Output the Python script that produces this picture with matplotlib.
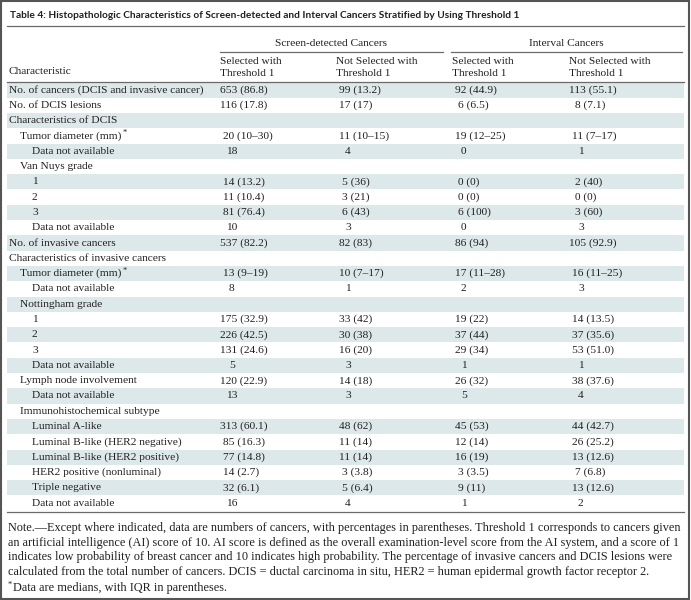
import matplotlib
matplotlib.use("Agg")
import matplotlib.pyplot as plt
from matplotlib.patches import Rectangle

# table content
title = "Table 4: Histopathologic Characteristics of Screen-detected and Interval Cancers Stratified by Using Threshold 1"
groups = ["Screen-detected Cancers", "Interval Cancers"]
col_heads = [["Selected with", "Threshold 1"], ["Not Selected with", "Threshold 1"],
             ["Selected with", "Threshold 1"], ["Not Selected with", "Threshold 1"]]

labels = ["No. of cancers (DCIS and invasive cancer)", "No. of DCIS lesions", "Characteristics of DCIS",
          "Tumor diameter (mm)", "Data not available", "Van Nuys grade", "1", "2", "3", "Data not available",
          "No. of invasive cancers", "Characteristics of invasive cancers", "Tumor diameter (mm)",
          "Data not available", "Nottingham grade", "1", "2", "3", "Data not available",
          "Lymph node involvement", "Data not available", "Immunohistochemical subtype", "Luminal A-like",
          "Luminal B-like (HER2 negative)", "Luminal B-like (HER2 positive)", "HER2 positive (nonluminal)",
          "Triple negative", "Data not available"]
levels = [0, 0, 0, 1, 2, 1, 2, 2, 2, 2, 0, 0, 1, 2, 1, 2, 2, 2, 2, 1, 2, 1, 2, 2, 2, 2, 2, 2]
starred = [3, 12]

sel_screen = ["653 (86.8)", "116 (17.8)", "", "20 (10–30)", "18", "", "14 (13.2)", "11 (10.4)", "81 (76.4)", "10",
              "537 (82.2)", "", "13 (9–19)", "8", "", "175 (32.9)", "226 (42.5)", "131 (24.6)", "5", "120 (22.9)",
              "13", "", "313 (60.1)", "85 (16.3)", "77 (14.8)", "14 (2.7)", "32 (6.1)", "16"]
notsel_screen = ["99 (13.2)", "17 (17)", "", "11 (10–15)", "4", "", "5 (36)", "3 (21)", "6 (43)", "3",
                 "82 (83)", "", "10 (7–17)", "1", "", "33 (42)", "30 (38)", "16 (20)", "3", "14 (18)",
                 "3", "", "48 (62)", "11 (14)", "11 (14)", "3 (3.8)", "5 (6.4)", "4"]
sel_interval = ["92 (44.9)", "6 (6.5)", "", "19 (12–25)", "0", "", "0 (0)", "0 (0)", "6 (100)", "0",
                "86 (94)", "", "17 (11–28)", "2", "", "19 (22)", "37 (44)", "29 (34)", "1", "26 (32)",
                "5", "", "45 (53)", "12 (14)", "16 (19)", "3 (3.5)", "9 (11)", "1"]
notsel_interval = ["113 (55.1)", "8 (7.1)", "", "11 (7–17)", "1", "", "2 (40)", "0 (0)", "3 (60)", "3",
                   "105 (92.9)", "", "16 (11–25)", "3", "", "14 (13.5)", "37 (35.6)", "53 (51.0)", "1", "38 (37.6)",
                   "4", "", "44 (42.7)", "26 (25.2)", "13 (12.6)", "7 (6.8)", "13 (12.6)", "2"]

notes = ["Note.—Except where indicated, data are numbers of cancers, with percentages in parentheses. Threshold 1 corresponds to cancers given",
         "an artificial intelligence (AI) score of 10. AI score is defined as the overall examination-level score from the AI system, and a score of 1",
         "indicates low probability of breast cancer and 10 indicates high probability. The percentage of invasive cancers and DCIS lesions were",
         "calculated from the total number of cancers. DCIS = ductal carcinoma in situ, HER2 = human epidermal growth factor receptor 2."]
footnote = "Data are medians, with IQR in parentheses."

# styling
W, H = 691, 600
txt = "#231f20"
rule = "#6b6b6b"
shade = "#dce8ea"
serif = ["Liberation Serif", "DejaVu Serif"]
fs = 8.2

fig = plt.figure(figsize=(W / 100, H / 100), dpi=100)
ax = fig.add_axes([0, 0, 1, 1])
ax.set_xlim(0, W)
ax.set_ylim(H, 0)
ax.axis("off")
fig.canvas.draw()
rend = fig.canvas.get_renderer()

def put(x, y, s, **kw):
    kw.setdefault("family", serif)
    kw.setdefault("fontsize", fs)
    kw.setdefault("color", txt)
    kw.setdefault("va", "center")
    return ax.text(x, y, s, **kw)

def fit_width(t, target):
    # shrink/grow font so the text spans about `target` pixels
    w = t.get_window_extent(rend).width
    t.set_fontsize(t.get_fontsize() * target / w)

# border + title
ax.add_patch(Rectangle((1, 1), W - 2.5, H - 2.5, fill=False, ec="#555555", lw=1.5))
tt = ax.text(10, 15, title, family=["Liberation Sans Narrow", "Lato", "DejaVu Sans"], weight="bold",
             fontsize=8.6, color=txt, va="center")
fit_width(tt, 505)
ax.plot([7, 684], [26, 26], color=rule, lw=0.9)

# header
col_x = [220, 336, 452, 569]
put(331, 44, groups[0], ha="center")
put(566, 44, groups[1], ha="center")
ax.plot([220, 443], [52, 52], color=rule, lw=0.9)
ax.plot([451, 682], [52, 52], color=rule, lw=0.9)
for x, (a, b) in zip(col_x, col_heads):
    put(x, 61, a)
    put(x, 74, b)
put(9, 72, "Characteristic")
ax.plot([7, 684], [82, 82], color=rule, lw=0.9)

# body rows
y0, dy = 90, 15.3
indent = [9, 20, 32]
for i, lab in enumerate(labels):
    y = y0 + i * dy
    if i % 2 == 0:
        ax.add_patch(Rectangle((7, y - dy / 2), 677, dy, color=shade, lw=0, zorder=0))
    t = put(indent[levels[i]], y, lab)
    if i in starred:
        bb = t.get_window_extent(rend)
        xe = ax.transData.inverted().transform((bb.x1, 0))[0]
        put(xe + 1, y - 3, "*", fontsize=6)
    for x, col in zip(col_x, [sel_screen, notsel_screen, sel_interval, notsel_interval]):
        s = col[i]
        if not s:
            continue
        lead = s.split(" ")[0]
        pad = (3 - len(lead)) * 3 + (3 if "(" not in s else 0)
        put(x + pad, y, s)

yb = y0 + (len(labels) - 1) * dy + 9
ax.plot([7, 684], [yb, yb], color=rule, lw=0.9)

# notes
nt = put(8, 528, notes[0])
fit_width(nt, 665)
nfs = nt.get_fontsize()
for k, line in enumerate(notes[1:], start=1):
    put(8, 528 + k * 14.6, line, fontsize=nfs)
put(8, 585, "*", fontsize=6)
put(13, 588, footnote, fontsize=nfs)

fig.savefig("out.png", dpi=100)
